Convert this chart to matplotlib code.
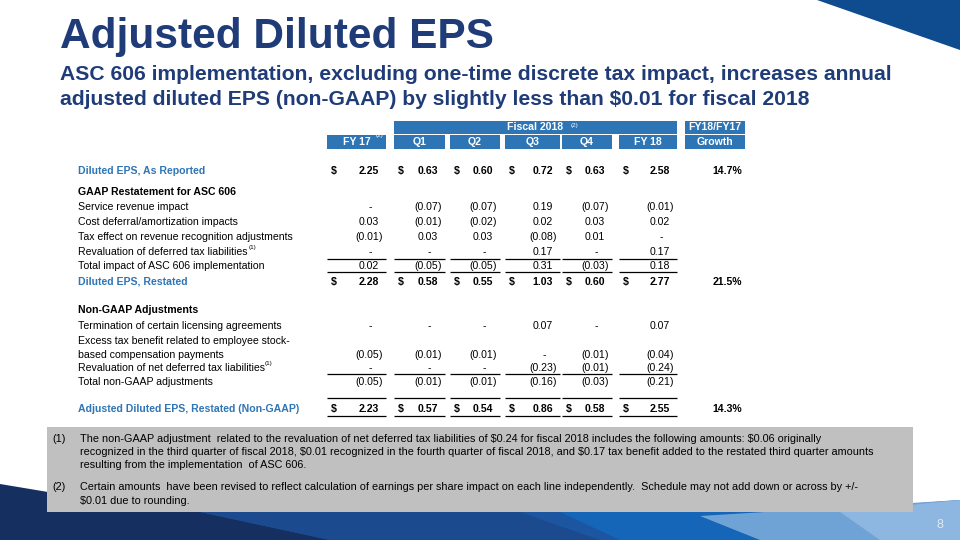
import matplotlib
matplotlib.use("Agg")
import matplotlib.pyplot as plt
from matplotlib.patches import Rectangle, Polygon
from matplotlib import font_manager

# ---- data ----
columns = ["FY 17", "Q1", "Q2", "Q3", "Q4", "FY 18"]
as_reported = [2.25, 0.63, 0.60, 0.72, 0.63, 2.58]
service_rev = [0, -0.07, -0.07, 0.19, -0.07, -0.01]
cost_deferral = [0.03, -0.01, -0.02, 0.02, 0.03, 0.02]
tax_effect = [-0.01, 0.03, 0.03, -0.08, 0.01, 0]
reval_deferred = [0, 0, 0, 0.17, 0, 0.17]
total_asc606 = [0.02, -0.05, -0.05, 0.31, -0.03, 0.18]
restated = [2.28, 0.58, 0.55, 1.03, 0.60, 2.77]
termination = [0, 0, 0, 0.07, 0, 0.07]
excess_tax = [-0.05, -0.01, -0.01, 0, -0.01, -0.04]
reval_net = [0, 0, 0, -0.23, -0.01, -0.24]
total_nongaap = [-0.05, -0.01, -0.01, -0.16, -0.03, -0.21]
adjusted = [2.23, 0.57, 0.54, 0.86, 0.58, 2.55]
growth = {"as_reported": "14.7%", "restated": "21.5%", "adjusted": "14.3%"}

footnote1 = [
    "The non-GAAP adjustment  related to the revaluation of net deferred tax liabilities of $0.24 for fiscal 2018 includes the following amounts: $0.06 originally",
    "recognized in the third quarter of fiscal 2018, $0.01 recognized in the fourth quarter of fiscal 2018, and $0.17 tax benefit added to the restated third quarter amounts",
    "resulting from the implementation  of ASC 606.",
]
footnote2 = [
    "Certain amounts  have been revised to reflect calculation of earnings per share impact on each line independently.  Schedule may not add down or across by +/-",
    "$0.01 due to rounding.",
]

# ---- style ----
NAVY = "#1F3C78"
HEAD = "#2E75B6"
LBL_BLUE = "#2E75B6"

names = {f.name for f in font_manager.fontManager.ttflist}
NARROW = "Liberation Sans Narrow" if "Liberation Sans Narrow" in names else "Liberation Sans"
SANS = "Liberation Sans"
plt.rcParams["font.family"] = [SANS, "DejaVu Sans"]

fig = plt.figure(figsize=(9.6, 5.4), dpi=100)
ax = fig.add_axes([0, 0, 1, 1])
ax.set_xlim(0, 960)
ax.set_ylim(540, 0)
ax.axis("off")

# top-right triangle
ax.add_patch(Polygon([(817, 0), (960, 0), (960, 50)], closed=True, color="#0F4C8F", lw=0))

# bottom band
ax.add_patch(Rectangle((0, 505), 960, 35, color="#1D56A0", lw=0))
ax.add_patch(Polygon([(0, 484), (60, 494), (200, 512), (330, 540), (0, 540)], color="#152F60", lw=0))
ax.add_patch(Polygon([(200, 512), (520, 512), (600, 540), (330, 540)], color="#1C4A8E", lw=0))
ax.add_patch(Polygon([(620, 540), (560, 512), (800, 512), (960, 500), (960, 540)], color="#1565B8", lw=0))
ax.add_patch(Polygon([(760, 540), (700, 516), (960, 500), (960, 540)], color="#6FA3D6", lw=0))
ax.add_patch(Polygon([(880, 540), (840, 512), (960, 500), (960, 540)], color="#8DB6E0", lw=0))
ax.text(940, 525, "8", color="#DCE8F5", fontsize=9, ha="center", va="center", family=NARROW)

# title
ax.text(60, 48, "Adjusted Diluted EPS", color=NAVY, fontsize=30.5, fontweight="bold", family=NARROW)
ax.text(60, 80, "ASC 606 implementation, excluding one-time discrete tax impact, increases annual",
        color=NAVY, fontsize=15.2, fontweight="bold", family=NARROW, parse_math=False)
ax.text(60, 105, "adjusted diluted EPS (non-GAAP) by slightly less than $0.01 for fiscal 2018",
        color=NAVY, fontsize=15.2, fontweight="bold", family=NARROW, parse_math=False)

# table geometry
col_left = [327, 394, 450, 505, 562, 619]
col_right = [386, 445, 500, 560, 612, 677]
gr_left, gr_right = 685, 745
label_x = 78
FS = 7.6

# header boxes
ax.add_patch(Rectangle((394, 121), 677 - 394, 12.5, color=HEAD, lw=0))
ax.text((394 + 677) / 2, 127.5, "Fiscal 2018", color="white", fontsize=FS, fontweight="bold", ha="center", va="center")
ax.text(571, 125, "(2)", color="white", fontsize=4.5, ha="left", va="center")
ax.add_patch(Rectangle((gr_left, 121), gr_right - gr_left, 12.5, color=HEAD, lw=0))
ax.text((gr_left + gr_right) / 2, 127.5, "FY18/FY17", color="white", fontsize=FS, fontweight="bold", ha="center", va="center")
for i, c in enumerate(columns):
    ax.add_patch(Rectangle((col_left[i], 135), col_right[i] - col_left[i], 14, color=HEAD, lw=0))
    ax.text((col_left[i] + col_right[i]) / 2, 142, c, color="white", fontsize=FS, fontweight="bold", ha="center", va="center")
ax.text(376, 136, "(2)", color="white", fontsize=4.5, ha="left", va="center")
ax.add_patch(Rectangle((gr_left, 135), gr_right - gr_left, 14, color=HEAD, lw=0))
ax.text((gr_left + gr_right) / 2, 142, "Growth", color="white", fontsize=FS, fontweight="bold", ha="center", va="center")


def num_row(y, vals, dollar=False, bold=False):
    w = "bold" if bold else "normal"
    for i, v in enumerate(vals):
        xr = col_right[i] - 7
        if dollar:
            ax.text(col_left[i] + 4, y, "$", fontsize=FS, fontweight=w, ha="left", va="center", parse_math=False)
        if v == 0:
            ax.text(xr - 9, y, "-", fontsize=FS, fontweight=w, ha="center", va="center")
        elif v < 0:
            ax.text(xr, y, "(%.2f" % abs(v), fontsize=FS, fontweight=w, ha="right", va="center")
            ax.text(xr, y, ")", fontsize=FS, fontweight=w, ha="left", va="center")
        else:
            ax.text(xr, y, "%.2f" % v, fontsize=FS, fontweight=w, ha="right", va="center")


def label(y, s, color="black", bold=False):
    ax.text(label_x, y, s, color=color, fontsize=FS, fontweight="bold" if bold else "normal", ha="left", va="center")


def rule(y):
    for i in range(len(columns)):
        ax.plot([col_left[i], col_right[i]], [y, y], color="black", lw=0.9, solid_capstyle="butt")


def grow(y, s):
    ax.text(gr_right - 3, y, s, fontsize=FS, fontweight="bold", ha="right", va="center")


label(171, "Diluted EPS, As Reported", LBL_BLUE, True)
num_row(171, as_reported, True, True)
grow(171, growth["as_reported"])

label(192, "GAAP Restatement for ASC 606", bold=True)
label(207, "Service revenue impact")
num_row(207, service_rev)
label(222, "Cost deferral/amortization impacts")
num_row(222, cost_deferral)
label(237, "Tax effect on revenue recognition adjustments")
num_row(237, tax_effect)
label(252, "Revaluation of deferred tax liabilities")
ax.text(249, 247, "(1)", fontsize=4.5, ha="left", va="center")
num_row(252, reval_deferred)
rule(259)
label(266, "Total impact of ASC 606 implementation")
num_row(266, total_asc606)
rule(272)
label(282, "Diluted EPS, Restated", LBL_BLUE, True)
num_row(282, restated, True, True)
grow(282, growth["restated"])

label(310, "Non-GAAP Adjustments", bold=True)
label(326, "Termination of certain licensing agreements")
num_row(326, termination)
label(341, "Excess tax benefit related to employee stock-")
label(355, "based compensation payments")
num_row(355, excess_tax)
label(368, "Revaluation of net deferred tax liabilities")
ax.text(265, 363, "(1)", fontsize=4.5, ha="left", va="center")
num_row(368, reval_net)
rule(374)
label(382, "Total non-GAAP adjustments")
num_row(382, total_nongaap)
rule(398)
label(409, "Adjusted Diluted EPS, Restated (Non-GAAP)", LBL_BLUE, True)
num_row(409, adjusted, True, True)
grow(409, growth["adjusted"])
rule(416)

# footnotes
ax.add_patch(Rectangle((47, 427), 913 - 47, 85, color="#C0C0C0", lw=0))
FFS = 7.8
ax.text(52, 439, "(1)", fontsize=FFS, family=NARROW, va="center")
for k, line in enumerate(footnote1):
    ax.text(80, 439 + 13 * k, line, fontsize=FFS, family=NARROW, va="center", parse_math=False)
ax.text(52, 487, "(2)", fontsize=FFS, family=NARROW, va="center")
for k, line in enumerate(footnote2):
    ax.text(80, 487 + 14 * k, line, fontsize=FFS, family=NARROW, va="center", parse_math=False)

fig.savefig("out.png", dpi=100)
